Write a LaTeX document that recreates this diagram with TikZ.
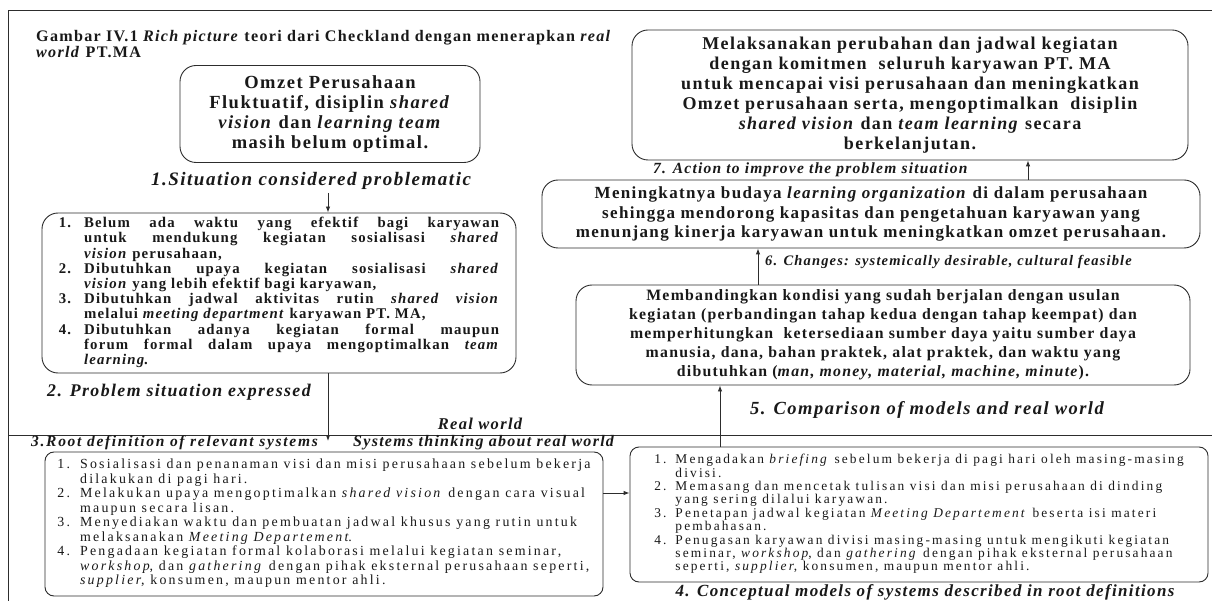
\documentclass[tikz,border=0pt]{standalone}
\usepackage{fontspec}
\setmainfont{Liberation Serif}
\newfontfamily\rpserif[LetterSpace=8]{Liberation Serif}
\newfontfamily\rplist[LetterSpace=16]{Liberation Serif}
\usetikzlibrary{arrows.meta}
\definecolor{cInk}{RGB}{25,25,25}
\definecolor{cEdge}{RGB}{45,45,45}
\newcommand{\jl}[1]{\makebox[415pt][s]{#1}}

\begin{document}
\begin{tikzpicture}[x=1pt,y=-1pt,
  stage/.style={draw=cEdge,line width=0.9pt,rounded corners=16pt,inner sep=0pt,text=cInk,align=center},
  tag/.style={inner sep=0pt,text=cInk,font={\rpserif\bfseries\itshape\fontsize{#1}{#1}\selectfont}},
  flow/.style={draw=cEdge,line width=0.9pt,-{Latex[length=6pt,width=4.5pt]}}]
\useasboundingbox (0,0) rectangle (1212,601);
\fill[white] (0,0) rectangle (1212,601);
% page frame and the real world line
\draw[cEdge,line width=0.9pt] (8,601) -- (8,10) -- (1212,10);
\draw[cEdge,line width=0.9pt] (8,435) -- (1212,435);

\node[anchor=north west,inner sep=0pt,align=left,text=cInk,font={\rpserif\bfseries\fontsize{16.1}{16}\selectfont}] (title) at (36,30) {Gambar IV.1 \textit{Rich picture} teori dari Checkland dengan menerapkan \textit{real}\\\textit{world} PT.MA};

% 1. situation
\node[stage,minimum width=300pt,minimum height=97pt,font={\rpserif\bfseries\fontsize{18.5}{20}\selectfont}] (omzet) at (330,114) {Omzet Perusahaan\\Fluktuatif, disiplin \textit{shared}\\\textit{vision} dan \textit{learning team}\\masih belum optimal.};
\node[tag=19] (sit1) at (311,181) {1.Situation considered problematic};

% 2. problem expressed
\node[stage,minimum width=474pt,minimum height=160pt,font={\rpserif\bfseries\fontsize{14.8}{15.2}\selectfont}] (prob) at (279,293) {%
\begin{tabular}{@{}l@{\hspace{13pt}}l@{}}
1. & \jl{Belum ada waktu yang efektif bagi karyawan}\\
 & \jl{untuk mendukung kegiatan sosialisasi \textit{shared}}\\
 & \textit{vision} perusahaan,\\
2. & \jl{Dibutuhkan upaya kegiatan sosialisasi \textit{shared}}\\
 & \textit{vision} yang lebih efektif bagi karyawan,\\
3. & \jl{Dibutuhkan jadwal aktivitas rutin \textit{shared vision}}\\
 & melalui \textit{meeting department} karyawan PT. MA,\\
4. & \jl{Dibutuhkan adanya kegiatan formal maupun}\\
 & \jl{forum formal dalam upaya mengoptimalkan \textit{team}}\\
 & \textit{learning}.
\end{tabular}};
\node[tag=17.8,anchor=west] (expr) at (47,392) {2. Problem situation expressed};

\node[tag=16.5] (rworld) at (480,424) {Real world};
\node[tag=15.5,anchor=west] (rootlab) at (31,443) {\addfontfeature{LetterSpace=11}3.Root definition of relevant systems};
\node[tag=16,anchor=west] (sysview) at (353,443) {Systems thinking about real world};

% 3. root definitions
\node[stage,rounded corners=9pt,minimum width=558pt,minimum height=144pt,font={\rplist\fontsize{13.9}{14.5}\selectfont}] (rootdef) at (324,524) {%
\begin{tabular}{@{}l@{\hspace{10pt}}l@{}}
1. & Sosialisasi dan penanaman visi dan misi perusahaan sebelum bekerja\\
 & dilakukan di pagi hari.\\
2. & Melakukan upaya mengoptimalkan \textit{shared vision} dengan cara visual\\
 & maupun secara lisan.\\
3. & Menyediakan waktu dan pembuatan jadwal khusus yang rutin untuk\\
 & melaksanakan \textit{Meeting Departement}.\\
4. & Pengadaan kegiatan formal kolaborasi melalui kegiatan seminar,\\
 & \textit{workshop}, dan \textit{gathering} dengan pihak eksternal perusahaan seperti,\\
 & \textit{supplier}, konsumen, maupun mentor ahli.
\end{tabular}};

% 4. conceptual models
\node[stage,rounded corners=9pt,minimum width=578pt,minimum height=135pt,font={\rplist\fontsize{13.4}{13.4}\selectfont}] (concept) at (919,514.5) {%
\begin{tabular}{@{}l@{\hspace{9pt}}l@{}}
1. & Mengadakan \textit{briefing} sebelum bekerja di pagi hari oleh masing-masing\\
 & divisi.\\
2. & Memasang dan mencetak tulisan visi dan misi perusahaan di dinding\\
 & yang sering dilalui karyawan.\\
3. & Penetapan jadwal kegiatan \textit{Meeting Departement} beserta isi materi\\
 & pembahasan.\\
4. & Penugasan karyawan divisi masing-masing untuk mengikuti kegiatan\\
 & seminar, \textit{workshop}, dan \textit{gathering} dengan pihak eksternal perusahaan\\
 & seperti, \textit{supplier}, konsumen, maupun mentor ahli.
\end{tabular}};
\node[tag=17,anchor=south] (cmod) at (925,600.5) {4. Conceptual models of systems described in root definitions};

% 5. comparison
\node[stage,minimum width=614pt,minimum height=100pt,font={\rpserif\bfseries\fontsize{15.8}{19}\selectfont}] (compare) at (883,335) {Membandingkan kondisi yang sudah berjalan dengan usulan\\kegiatan (perbandingan tahap kedua dengan tahap keempat) dan\\memperhitungkan\ \ ketersediaan sumber daya yaitu sumber daya\\manusia, dana, bahan praktek, alat praktek, dan waktu yang\\dibutuhkan (\textit{man, money, material, machine, minute}).};
\node[tag=18.5] (cmp) at (927,410) {5. Comparison of models and real world};

% 6. changes
\node[stage,minimum width=658pt,minimum height=68pt,font={\rpserif\bfseries\fontsize{17}{19.5}\selectfont}] (change) at (871,214) {Meningkatnya budaya \textit{learning organization} di dalam perusahaan\\sehingga mendorong kapasitas dan pengetahuan karyawan yang\\menunjang kinerja karyawan untuk meningkatkan omzet perusahaan.};
\node[tag=14.5,anchor=west] (chg) at (765,262) {6. Changes: systemically desirable, cultural feasible};

% 7. action
\node[stage,minimum width=556pt,minimum height=130pt,font={\rpserif\bfseries\fontsize{18}{20}\selectfont}] (action) at (910,95) {Melaksanakan perubahan dan jadwal kegiatan\\dengan komitmen\ \ seluruh karyawan PT. MA\\untuk mencapai visi perusahaan dan meningkatkan\\Omzet perusahaan serta, mengoptimalkan\ \ disiplin\\\textit{shared vision} dan \textit{team learning} secara\\berkelanjutan.};
\node[tag=15.5,anchor=west] (act) at (653,170) {7. Action to improve the problem situation};

% connectors
\coordinate (rwend) at (328,441);
\coordinate (m34) at (616,493);
\coordinate (c45) at (720,420);
\coordinate (c56) at (758,265);
\coordinate (c67) at (1028,170);
\draw[flow,shorten <=3pt] (sit1.south -| rwend) -- (prob.north -| rwend);
\draw[flow] (prob.south -| rwend) -- (rwend);
\draw[flow] (rootdef.east |- m34) -- (concept.west |- m34);
\draw[flow] (concept.north -| c45) -- (compare.south -| c45);
\draw[flow] (compare.north -| c56) -- (change.south -| c56);
\draw[flow] (change.north -| c67) -- (action.south -| c67);
\end{tikzpicture}
\end{document}
